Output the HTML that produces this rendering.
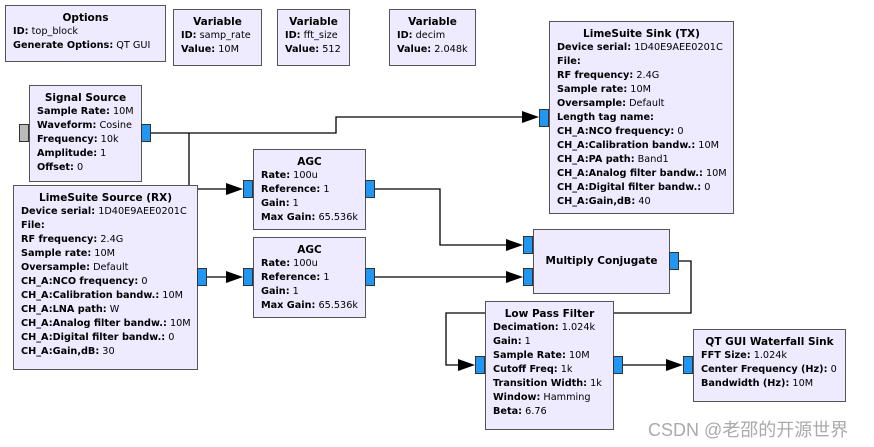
<!DOCTYPE html>
<html><head><meta charset="utf-8"><style>
body{margin:0;width:874px;height:447px;background:#fff;position:relative;overflow:hidden;font-family:"DejaVu Sans","Liberation Sans",sans-serif;font-size:9.7px;color:#000}
.b{position:absolute;background:#eeeaff;border:1px solid #555;box-sizing:border-box;padding:5px 0 0 7px;line-height:14px;white-space:nowrap}
.b .t{font-weight:bold;text-align:center;margin-left:-7px;font-size:10.5px}
.b b{font-weight:bold}
.p{position:absolute;background:#2196f3;border:1px solid #333;box-sizing:border-box;width:10px;height:18px}
svg{position:absolute;left:0;top:0}
.wm{position:absolute;left:648px;top:416px;font-family:"Liberation Sans","Noto Sans CJK SC",sans-serif;font-size:18px;color:#aaa}
</style></head><body>
<svg width="874" height="447">
<g stroke="#000" stroke-width="1.3" fill="none">
<polyline points="151,133 336,133 336,117 532,117"/>
<polyline points="189,133 189,189 236,189"/>
<polyline points="207,277 236,277"/>
<polyline points="375,189 440,189 440,245 516,245"/>
<polyline points="375,277 516,277"/>
<polyline points="679,261 691,261 691,313 613,313"/>
<polyline points="485,313 446,313 446,365 468,365"/>
<polyline points="623,365 676,365"/>
</g>
<g fill="#000">
<polygon points="226,183 243,189 226,195"/>
<polygon points="226,271 243,277 226,283"/>
<polygon points="522,111 539,117 522,123"/>
<polygon points="506,239 523,245 506,251"/>
<polygon points="506,271 523,277 506,283"/>
<polygon points="458,359 475,365 458,371"/>
<polygon points="666,359 683,365 666,371"/>
</g>
</svg>
<div class="b" style="left:5px;top:5px;width:161px;height:57px"><div class="t">Options</div><b>ID:</b> top_block<br><b>Generate Options:</b> QT GUI</div>
<div class="b" style="left:173px;top:9px;width:89px;height:57px"><div class="t">Variable</div><b>ID:</b> samp_rate<br><b>Value:</b> 10M</div>
<div class="b" style="left:277px;top:9px;width:73px;height:57px"><div class="t">Variable</div><b>ID:</b> fft_size<br><b>Value:</b> 512</div>
<div class="b" style="left:389px;top:9px;width:87px;height:57px"><div class="t">Variable</div><b>ID:</b> decim<br><b>Value:</b> 2.048k</div>
<div class="b" style="left:29px;top:85px;width:113px;height:97px"><div class="t">Signal Source</div><b>Sample Rate:</b> 10M<br><b>Waveform:</b> Cosine<br><b>Frequency:</b> 10k<br><b>Amplitude:</b> 1<br><b>Offset:</b> 0</div>
<div class="p" style="left:19px;top:124px;background:#bbb"></div>
<div class="p" style="left:141px;top:124px"></div>
<div class="b" style="left:13px;top:185px;width:185px;height:185px"><div class="t">LimeSuite Source (RX)</div><b>Device serial:</b> 1D40E9AEE0201C<br><b>File:</b><br><b>RF frequency:</b> 2.4G<br><b>Sample rate:</b> 10M<br><b>Oversample:</b> Default<br><b>CH_A:NCO frequency:</b> 0<br><b>CH_A:Calibration bandw.:</b> 10M<br><b>CH_A:LNA path:</b> W<br><b>CH_A:Analog filter bandw.:</b> 10M<br><b>CH_A:Digital filter bandw.:</b> 0<br><b>CH_A:Gain,dB:</b> 30</div>
<div class="p" style="left:197px;top:268px"></div>
<div class="b" style="left:253px;top:149px;width:113px;height:81px"><div class="t">AGC</div><b>Rate:</b> 100u<br><b>Reference:</b> 1<br><b>Gain:</b> 1<br><b>Max Gain:</b> 65.536k</div>
<div class="p" style="left:243px;top:180px"></div><div class="p" style="left:365px;top:180px"></div>
<div class="b" style="left:253px;top:237px;width:113px;height:81px"><div class="t">AGC</div><b>Rate:</b> 100u<br><b>Reference:</b> 1<br><b>Gain:</b> 1<br><b>Max Gain:</b> 65.536k</div>
<div class="p" style="left:243px;top:268px"></div><div class="p" style="left:365px;top:268px"></div>
<div class="b" style="left:549px;top:21px;width:185px;height:193px"><div class="t">LimeSuite Sink (TX)</div><b>Device serial:</b> 1D40E9AEE0201C<br><b>File:</b><br><b>RF frequency:</b> 2.4G<br><b>Sample rate:</b> 10M<br><b>Oversample:</b> Default<br><b>Length tag name:</b><br><b>CH_A:NCO frequency:</b> 0<br><b>CH_A:Calibration bandw.:</b> 10M<br><b>CH_A:PA path:</b> Band1<br><b>CH_A:Analog filter bandw.:</b> 10M<br><b>CH_A:Digital filter bandw.:</b> 0<br><b>CH_A:Gain,dB:</b> 40</div>
<div class="p" style="left:539px;top:109px"></div>
<div class="b" style="left:533px;top:229px;width:137px;height:65px;padding:0"><div class="t" style="margin:0;line-height:62px">Multiply Conjugate</div></div>
<div class="p" style="left:523px;top:236px"></div><div class="p" style="left:523px;top:268px"></div><div class="p" style="left:669px;top:252px"></div>
<div class="b" style="left:485px;top:301px;width:129px;height:129px"><div class="t">Low Pass Filter</div><b>Decimation:</b> 1.024k<br><b>Gain:</b> 1<br><b>Sample Rate:</b> 10M<br><b>Cutoff Freq:</b> 1k<br><b>Transition Width:</b> 1k<br><b>Window:</b> Hamming<br><b>Beta:</b> 6.76</div>
<div class="p" style="left:475px;top:356px"></div><div class="p" style="left:613px;top:356px"></div>
<div class="b" style="left:693px;top:329px;width:153px;height:73px"><div class="t">QT GUI Waterfall Sink</div><b>FFT Size:</b> 1.024k<br><b>Center Frequency (Hz):</b> 0<br><b>Bandwidth (Hz):</b> 10M</div>
<div class="p" style="left:683px;top:356px"></div>
<div class="wm">CSDN @老邵的开源世界</div>
</body></html>
